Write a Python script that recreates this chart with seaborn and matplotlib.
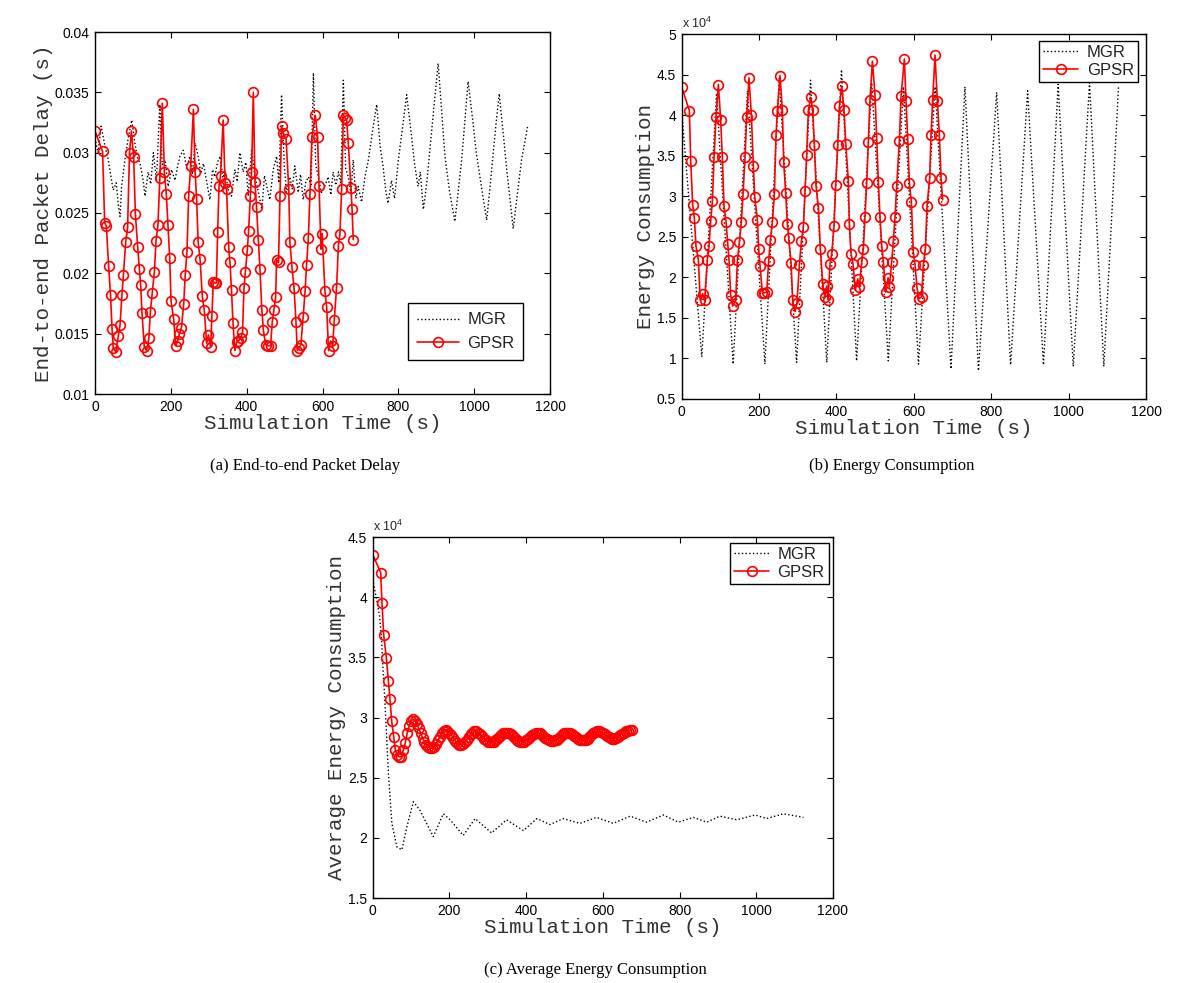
import matplotlib
matplotlib.use('Agg')
import matplotlib.pyplot as plt
import seaborn as sns
from matplotlib.lines import Line2D
from matplotlib.ticker import FuncFormatter, MultipleLocator

# ---------------- data ----------------
# (a) End-to-end packet delay
gpsr_a_t = [0, 20, 25.5, 30, 36, 41, 45, 48, 55, 61.5, 66, 71, 75, 81, 86, 91, 96,
            102, 106.5, 112.5, 117, 120.5, 124, 130, 136, 142, 146, 151, 156.5, 161, 166, 171, 177.5,
            183, 188, 192.5, 197, 200.5, 207.5, 213, 218, 222.5, 228, 234, 238, 242.5, 247, 252.5, 259.5,
            264, 268, 272, 277, 283, 288, 294.5, 299, 305, 308.5, 312, 316, 320, 323.5, 327, 331, 338,
            343, 347, 352.5, 356, 360, 364, 369, 373.5, 378, 384, 389, 393, 396.5, 401.7, 405, 409.6, 413, 417.5,
            422, 426, 430.7, 435, 440, 444, 450, 457, 463, 467.6, 472, 476.4, 479, 484, 488, 492,
            497, 504, 511, 514, 519.5, 525, 530, 533.6, 538, 543, 549, 554, 558, 562.6, 567, 572, 581,
            587, 591, 596, 599, 606.5, 611, 616, 621.5, 627, 631, 637, 642, 646, 650.5, 655, 659, 663.5,
            668, 675, 678, 681]
gpsr_a_v = [.0318, .0301, .0242, .0239, .0206, .0182, .0154, .0138, .0135, .0148, .0157, .0182, .0199, .0226, .0238, .0300, .0318,
            .0296, .0249, .0222, .0204, .0190, .0167, .0139, .0136, .0146, .0168, .0184, .0201, .0227, .0240, .0279, .0341,
            .0284, .0266, .0240, .0213, .0177, .0162, .0140, .0144, .0150, .0155, .0175, .0199, .0218, .0264, .0289, .0336,
            .0284, .0262, .0226, .0212, .0181, .0170, .0142, .0149, .0139, .0165, .0193, .0192, .0192, .0234, .0272, .0281, .0327,
            .0275, .0270, .0222, .0209, .0186, .0159, .0136, .0143, .0144, .0146, .0151, .0188, .0201, .0219, .0235, .0264, .0284, .0350,
            .0276, .0255, .0228, .0204, .0170, .0153, .0141, .0140, .0140, .0160, .0170, .0180, .0211, .0209, .0264, .0322,
            .0316, .0311, .0270, .0226, .0205, .0188, .0160, .0136, .0138, .0141, .0164, .0185, .0207, .0229, .0266, .0313, .0331,
            .0313, .0272, .0220, .0233, .0185, .0172, .0136, .0144, .0140, .0161, .0188, .0223, .0233, .0270, .0331, .0329, .0327,
            .0308, .0271, .0253, .0228]

mgr_a_t = [0, 8, 16, 26, 35, 40, 48, 56, 61, 66, 70, 79, 88, 97, 105, 112, 119, 127, 132, 140, 147, 154, 162, 171, 177,
           185, 193, 202, 211, 218, 224, 233, 242, 250, 257, 264, 272, 279, 286, 294, 303, 310, 316, 323, 330, 337,
           343, 352, 360, 369, 375, 382, 391, 398, 404, 413, 422, 431, 440, 447, 453, 461, 470, 479, 485, 492, 499,
           505, 514, 520, 527, 536, 542, 549, 556, 563, 570, 576, 582, 589, 597, 606, 615, 622, 628, 635, 642, 648,
           655, 661, 668, 675, 681, 688, 694, 703, 712, 721, 732, 743, 752, 760, 767, 773, 782, 790, 800, 810, 822,
           835, 843, 852, 858, 866, 875, 883, 893, 905, 914, 923, 935, 949, 958, 967, 975, 984, 995, 1006, 1020,
           1033, 1042, 1050, 1058, 1066, 1076, 1086, 1095, 1103, 1114, 1125, 1141]
mgr_a_v = [.0312, .0300, .0322, .0306, .0294, .0284, .0269, .0275, .0258, .0247, .0272, .0294, .0313, .0327, .0308, .0296,
           .0291, .0277, .0264, .0284, .0274, .0300, .0277, .0340, .0290, .0294, .0272, .0286, .0277, .0289, .0297, .0302,
           .0287, .0297, .0283, .0308, .0297, .0283, .0291, .0277, .0261, .0286, .0280, .0292, .0297, .0279, .0284, .0269,
           .0264, .0286, .0276, .0300, .0284, .0292, .0264, .0302, .0280, .0267, .0253, .0281, .0272, .0261, .0286, .0297,
           .0275, .0348, .0290, .0267, .0280, .0270, .0289, .0267, .0282, .0261, .0276, .0280, .0272, .0366, .0290, .0280,
           .0267, .0272, .0280, .0265, .0284, .0273, .0284, .0275, .0360, .0287, .0280, .0266, .0294, .0262, .0272, .0259,
           .0280, .0294, .0318, .0340, .0305, .0288, .0268, .0258, .0277, .0262, .0294, .0318, .0348, .0313, .0290, .0272,
           .0284, .0253, .0275, .0302, .0335, .0374, .0335, .0297, .0268, .0243, .0268, .0294, .0325, .0359, .0330, .0299,
           .0270, .0244, .0272, .0299, .0325, .0349, .0318, .0286, .0260, .0237, .0266, .0294, .0322]

# (b) Energy consumption (x 10^4)
gpsr_b_t = [0, 19.8, 23.3, 28.4, 32.7, 37, 43, 48, 54, 59.4, 66.3, 70.6, 75, 79.3, 83.6, 88.7, 94.8,
            100.8, 105, 109.4, 114.6, 118.9, 122.3, 126.6, 131.8, 139.6, 143.9, 149, 154.2, 158.5, 163.7, 167.9, 174,
            180, 185.2, 188.7, 195.6, 199, 202.4, 208.5, 213.7, 219.7, 224.8, 229.2, 234.3, 239.5, 243.8, 247.2, 254.1,
            260.2, 263.6, 268.8, 273.1, 276.5, 282.6, 286.9, 292.9, 298, 304.1, 309.3, 314.5, 318.8, 323, 327.4, 333.4,
            338.6, 343, 347.2, 353.2, 358.4, 364.4, 369.6, 374.7, 378.2, 383.4, 387.7, 393.7, 398, 403.2, 407.5, 413.5,
            419.5, 423.9, 430.7, 433.3, 437.6, 442.8, 448.8, 454.9, 459.2, 465.2, 469.5, 473.8, 478.1, 482.4, 486.7, 492.8,
            499.7, 504, 508.3, 512.6, 516.9, 521.2, 527.2, 533.3, 536.7, 542.7, 547, 551.4, 555.7, 562.6, 566.9, 575.5,
            579.8, 584.1, 588.4, 593.6, 598.7, 603, 608.2, 613.4, 620.3, 624.6, 629.8, 634.1, 640.9, 644.4, 648.7, 654.7,
            660.8, 666, 670.2, 674.5]
gpsr_b_v = [4.345, 4.055, 3.437, 2.893, 2.726, 2.382, 2.219, 1.716, 1.80, 1.716, 2.219, 2.382, 2.70, 2.94, 3.478, 3.977, 4.377,
            3.936, 3.478, 2.881, 2.685, 2.415, 2.21, 1.781, 1.646, 1.72, 2.21, 2.43, 2.685, 3.024, 3.486, 3.977, 4.459,
            4.005, 3.376, 2.996, 2.709, 2.35, 2.145, 1.81, 1.81, 1.818, 2.202, 2.46, 2.677, 3.028, 3.752, 4.05, 4.488,
            4.058, 3.425, 3.036, 2.66, 2.485, 2.178, 1.716, 1.577, 1.687, 2.149, 2.444, 2.62, 3.069, 3.507, 4.058, 4.222,
            4.067, 3.629, 3.126, 2.86, 2.35, 1.92, 1.757, 1.892, 1.72, 2.166, 2.288, 2.627, 3.139, 3.629, 4.107, 4.357,
            4.067, 3.65, 3.192, 2.656, 2.292, 2.166, 1.843, 1.982, 1.879, 2.19, 2.35, 2.75, 3.159, 3.67, 4.189, 4.664,
            4.242, 3.723, 3.171, 2.738, 2.39, 2.19, 1.818, 1.994, 1.879, 2.19, 2.452, 2.75, 3.13, 3.682, 4.23, 4.692,
            4.173, 3.711, 3.167, 2.926, 2.309, 2.157, 1.871, 1.736, 1.761, 2.157, 2.35, 2.881, 3.224, 3.76, 4.189, 4.741,
            4.169, 3.752, 3.229, 2.955]

mgr_b_t = [0, 52, 90, 133, 170, 215, 252, 297, 333, 375, 413, 452, 491, 534, 573, 612, 655, 696, 732, 767,
           814, 850, 894, 935, 973, 1012, 1054, 1091, 1129]
mgr_b_v = [4.05, 1.02, 4.25, 0.93, 4.30, 0.93, 4.45, 0.95, 4.43, 0.95, 4.56, 0.97, 4.40, 0.97, 4.35, 0.93, 4.35,
           0.87, 4.35, 0.85, 4.28, 0.92, 4.30, 0.92, 4.38, 0.90, 4.40, 0.90, 4.35]

# (c) Average energy consumption (x 10^4)
gpsr_c_t = [0, 20.8, 24.2, 28.6, 35.6, 40.8, 45.1, 49.5, 54.7, 59.1, 64.3, 69.5, 74.7, 79.9,
            85, 90, 95, 100, 105, 110, 115, 120, 125, 130, 135, 140, 145, 150, 155, 160, 165, 170, 175, 180,
            185, 190, 195, 200, 205, 210, 215, 220, 225, 230, 235, 240, 245, 250, 255, 260, 265, 270, 275, 280,
            285, 290, 295, 300, 305, 310, 315, 320, 325, 330, 335, 340, 345, 350, 355, 360, 365, 370, 375, 380,
            385, 390, 395, 400, 405, 410, 415, 420, 425, 430, 435, 440, 445, 450, 455, 460, 465, 470, 475, 480,
            485, 490, 495, 500, 505, 510, 515, 520, 525, 530, 535, 540, 545, 550, 555, 560, 565, 570, 575, 580,
            585, 590, 595, 600, 605, 610, 615, 620, 625, 630, 635, 640, 645, 650, 655, 660, 665, 670, 675]
gpsr_c_v = [4.354, 4.204, 3.952, 3.686, 3.495, 3.307, 3.152, 2.972, 2.839, 2.729, 2.687, 2.673, 2.673, 2.729,
            2.79, 2.87, 2.93, 2.97, 2.985, 2.975, 2.95, 2.91, 2.87, 2.83, 2.80, 2.77, 2.755, 2.745, 2.745, 2.755,
            2.78, 2.81, 2.84, 2.87, 2.89, 2.895, 2.89, 2.875, 2.855, 2.83, 2.805, 2.785, 2.775, 2.775, 2.78, 2.795,
            2.815, 2.84, 2.86, 2.875, 2.885, 2.885, 2.875, 2.86, 2.845, 2.825, 2.81, 2.80, 2.795, 2.795, 2.80, 2.81,
            2.825, 2.84, 2.855, 2.87, 2.875, 2.875, 2.87, 2.86, 2.845, 2.83, 2.815, 2.805, 2.80, 2.80, 2.80, 2.81,
            2.825, 2.84, 2.855, 2.865, 2.875, 2.875, 2.87, 2.86, 2.845, 2.83, 2.82, 2.81, 2.805, 2.805, 2.81, 2.815,
            2.83, 2.845, 2.86, 2.87, 2.875, 2.875, 2.87, 2.86, 2.85, 2.835, 2.825, 2.815, 2.81, 2.815, 2.815, 2.825,
            2.84, 2.855, 2.87, 2.88, 2.885, 2.885, 2.88, 2.87, 2.86, 2.845, 2.835, 2.83, 2.825, 2.825, 2.83, 2.84,
            2.855, 2.865, 2.875, 2.885, 2.89, 2.895, 2.895]

mgr_c_t = [0, 9, 18, 23, 27, 31, 41, 50, 63, 76, 89, 106, 123, 158, 184, 202, 236, 267, 310, 349, 393, 428,
           462, 497, 540, 584, 627, 671, 714, 758, 797, 836, 871, 905, 949, 997, 1027, 1071, 1123]
mgr_c_v = [4.15, 4.00, 3.84, 3.65, 3.40, 3.18, 2.53, 2.12, 1.925, 1.90, 2.09, 2.30, 2.23, 2.01, 2.20, 2.15, 2.02,
           2.16, 2.04, 2.15, 2.06, 2.16, 2.11, 2.16, 2.12, 2.17, 2.12, 2.18, 2.13, 2.19, 2.13, 2.17, 2.13, 2.18,
           2.15, 2.19, 2.16, 2.20, 2.17]

x_ticks = [0, 200, 400, 600, 800, 1000, 1200]
captions = ['(a) End-to-end Packet Delay', '(b) Energy Consumption', '(c) Average Energy Consumption']
ylabels = ['End-to-end Packet Delay (s)', 'Energy Consumption', 'Average Energy Consumption']
xlabel = 'Simulation Time (s)'
legend_labels = ['MGR', 'GPSR']

# ---------------- style ----------------
sns.set_theme(style='white')
plt.rcParams.update({
    'font.family': ['Liberation Sans', 'DejaVu Sans'],
    'xtick.direction': 'in', 'ytick.direction': 'in',
    'xtick.top': True, 'ytick.right': True,
    'xtick.bottom': True, 'ytick.left': True,
    'xtick.major.size': 4, 'ytick.major.size': 4,
    'xtick.major.width': 0.8, 'ytick.major.width': 0.8,
    'xtick.color': 'black', 'ytick.color': 'black',
    'xtick.labelsize': 10, 'ytick.labelsize': 10,
    'axes.edgecolor': 'black', 'axes.linewidth': 1.0,
    'mathtext.fontset': 'custom', 'mathtext.rm': 'Liberation Sans',
})

fig = plt.figure(figsize=(12, 9.83), dpi=100)
W, H = 1200, 983


def add_ax(l, t, r, b):
    return fig.add_axes([l / W, 1 - b / H, (r - l) / W, (b - t) / H])


ax_a = add_ax(95, 32, 550, 394)
ax_b = add_ax(681.7, 34, 1146, 399)
ax_c = add_ax(372.7, 537, 833, 898)

red_kw = dict(color='red', linewidth=1.2, marker='o', markersize=7,
              markerfacecolor='none', markeredgecolor='red', markeredgewidth=1.2)
mgr_kw = dict(color='black', linewidth=1.0, linestyle=':')


def draw(ax, mt, mv, gt, gv):
    sns.lineplot(x=mt, y=mv, ax=ax, sort=False, estimator=None, **mgr_kw)
    sns.lineplot(x=gt, y=gv, ax=ax, sort=False, estimator=None, **red_kw)


draw(ax_a, mgr_a_t, mgr_a_v, gpsr_a_t, gpsr_a_v)
draw(ax_b, mgr_b_t, mgr_b_v, gpsr_b_t, gpsr_b_v)
draw(ax_c, mgr_c_t, mgr_c_v, gpsr_c_t, gpsr_c_v)

fmt = FuncFormatter(lambda v, p: '%g' % round(v, 4))
lab_font = dict(family='Liberation Mono', size=15, color='#333333')

for ax, ylim, ystep, ylab in [(ax_a, (0.01, 0.04), 0.005, ylabels[0]),
                              (ax_b, (0.5, 5), 0.5, ylabels[1]),
                              (ax_c, (1.5, 4.5), 0.5, ylabels[2])]:
    ax.set_xlim(0, 1200)
    ax.set_ylim(*ylim)
    ax.set_xticks(x_ticks)
    ax.yaxis.set_major_locator(MultipleLocator(ystep))
    ax.yaxis.set_major_formatter(fmt)
    ax.xaxis.set_major_formatter(fmt)
    ax.set_xlabel(xlabel, fontdict=lab_font, labelpad=0)
    ax.set_ylabel(ylab, fontdict=lab_font, labelpad=1)
    ax.tick_params(pad=4)
    for s in ax.spines.values():
        s.set_visible(True)
        s.set_color('black')

for ax in (ax_b, ax_c):
    ax.text(0.0, 1.008, r'x 10$^{4}$', transform=ax.transAxes, fontsize=9,
            ha='left', va='bottom')

handles = [Line2D([], [], **mgr_kw), Line2D([], [], **red_kw)]

leg_common = dict(frameon=True, fancybox=False, edgecolor='black', framealpha=1,
                  fontsize=12, handletextpad=0.5, borderaxespad=0)
leg_a = ax_a.legend(handles, legend_labels, loc='lower left', bbox_to_anchor=(0.688, 0.094),
                    handlelength=2.5, labelspacing=0.5, borderpad=0.55, **leg_common)
leg_b = ax_b.legend(handles, legend_labels, loc='upper right', bbox_to_anchor=(0.983, 0.981),
                    handlelength=2.1, labelspacing=0.15, borderpad=0.25, **leg_common)
leg_c = ax_c.legend(handles, legend_labels, loc='upper right', bbox_to_anchor=(0.991, 0.983),
                    handlelength=2.1, labelspacing=0.15, borderpad=0.25, **leg_common)
for lg in (leg_a, leg_b, leg_c):
    lg.get_frame().set_linewidth(1.0)
    for t in lg.get_texts():
        t.set_color('#222222')

cap_font = dict(family='Liberation Serif', size=12, color='black')
fig.text(305 / W, 1 - 466 / H, captions[0], ha='center', va='center', **cap_font)
fig.text(892 / W, 1 - 466 / H, captions[1], ha='center', va='center', **cap_font)
fig.text(595 / W, 1 - 970 / H, captions[2], ha='center', va='center', **cap_font)

fig.savefig('out.png', dpi=100)
